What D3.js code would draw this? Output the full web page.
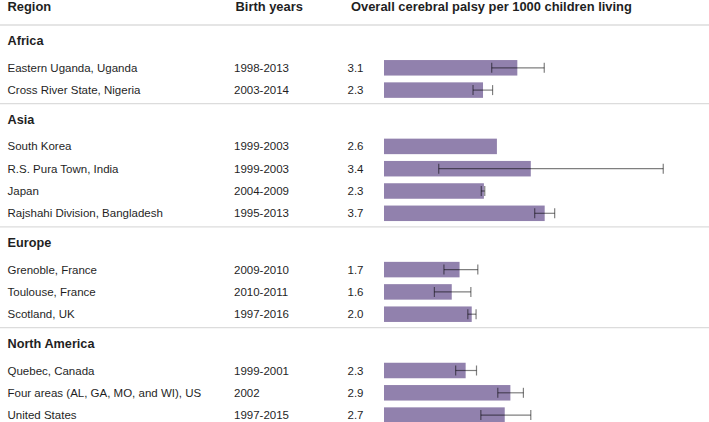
<!DOCTYPE html>
<html>
<head>
<meta charset="utf-8">
<script src="https://cdn.jsdelivr.net/npm/d3@7"></script>
<style>
  html, body { margin: 0; padding: 0; background: #fff; }
  svg { display: block; font-family: "Liberation Sans", Arial, Helvetica, sans-serif; }
</style>
</head>
<body>
<svg id="chart" width="709" height="422"></svg>
<script>
// ---- data ----
const headers = ["Region", "Birth years", "Overall cerebral palsy per 1000 children living"];
const groups = ["Africa", "Asia", "Europe", "North America"];
const rowGroups = ["Africa", "Africa", "Asia", "Asia", "Asia", "Asia", "Europe", "Europe", "Europe", "North America", "North America", "North America"];
const regions = ["Eastern Uganda, Uganda", "Cross River State, Nigeria", "South Korea", "R.S. Pura Town, India", "Japan", "Rajshahi Division, Bangladesh", "Grenoble, France", "Toulouse, France", "Scotland, UK", "Quebec, Canada", "Four areas (AL, GA, MO, and WI), US", "United States"];
const birthYears = ["1998-2013", "2003-2014", "1999-2003", "1999-2003", "2004-2009", "1995-2013", "2009-2010", "2010-2011", "1997-2016", "1999-2001", "2002", "1997-2015"];
const valueLabels = ["3.1", "2.3", "2.6", "3.4", "2.3", "3.7", "1.7", "1.6", "2.0", "2.3", "2.9", "2.7"];
const barValues = [3.07, 2.28, 2.6, 3.38, 2.3, 3.7, 1.74, 1.56, 2.02, 1.88, 2.91, 2.78];
const ciLow  = [2.48, 2.05, null, 1.26, 2.24, 3.47, 1.38, 1.16, 1.93, 1.65, 2.62, 2.23];
const ciHigh = [3.69, 2.50, null, 6.43, 2.32, 3.93, 2.16, 2.00, 2.12, 2.13, 3.21, 3.38];

// ---- layout ----
const svg = d3.select("#chart");
const W = 709;
const textColor = "#1f1f1f";
const barColor = "#9181ad";
const sepColor = "#dcdcdc";

const colRegion = 7.5, colYears = 234, colValue = 347.5, colHeader3 = 351;
const x = d3.scaleLinear().domain([0, 7]).range([384, 688]);

// vertical positions built from the row structure
const headerLineY = 25;
const pitch = 22.3, firstOffset = 22.5, sepOffset = 13.5, labelOffset = 20.3;
const groupLabelY = {}, rowY = [], sepY = [];
let cursor = headerLineY;
groups.forEach((g, gi) => {
  const labelBase = cursor + labelOffset;
  groupLabelY[g] = labelBase;
  let c = labelBase + firstOffset;
  const idx = rowGroups.map((rg, i) => rg === g ? i : -1).filter(i => i >= 0);
  idx.forEach((i, k) => { rowY[i] = c + k * pitch; });
  const last = rowY[idx[idx.length - 1]];
  cursor = last + sepOffset;
  if (gi < groups.length - 1) sepY.push(cursor);
});
const y = d3.scaleOrdinal().domain(regions).range(rowY);
const barH = 15.5;

// header
const hdr = svg.append("g").attr("font-weight", "bold").attr("font-size", 12.9).attr("fill", textColor);
hdr.append("text").attr("x", colRegion).attr("y", 11.3).text(headers[0]);
hdr.append("text").attr("x", colYears + 1.5).attr("y", 11.3).text(headers[1]);
hdr.append("text").attr("x", colHeader3).attr("y", 11.3).text(headers[2]);

// separators
svg.append("g").selectAll("line").data([headerLineY].concat(sepY)).join("line")
  .attr("x1", 0).attr("x2", W).attr("y1", d => d).attr("y2", d => d)
  .attr("stroke", sepColor).attr("stroke-width", 1.3);

// group labels
svg.append("g").selectAll("text").data(groups).join("text")
  .attr("x", colRegion).attr("y", d => groupLabelY[d])
  .attr("font-weight", "bold").attr("font-size", 12.7).attr("fill", textColor)
  .text(d => d);

// row texts
const rows = svg.append("g").attr("font-size", 11.5).attr("fill", textColor);
rows.selectAll("text.region").data(regions).join("text").attr("class", "region")
  .attr("x", colRegion).attr("y", d => y(d)).attr("dy", "0.35em").text(d => d);
rows.selectAll("text.years").data(birthYears).join("text").attr("class", "years")
  .attr("x", colYears).attr("y", (d, i) => rowY[i]).attr("dy", "0.35em").text(d => d);
rows.selectAll("text.val").data(valueLabels).join("text").attr("class", "val")
  .attr("x", colValue).attr("y", (d, i) => rowY[i]).attr("dy", "0.35em").text(d => d);

// bars
svg.append("g").selectAll("rect").data(barValues).join("rect")
  .attr("x", x(0)).attr("y", (d, i) => rowY[i] - barH / 2)
  .attr("width", d => x(d) - x(0)).attr("height", barH)
  .attr("fill", barColor);

// error bars
const ci = regions.map((r, i) => ({ i, lo: ciLow[i], hi: ciHigh[i] })).filter(d => d.lo != null);
const eb = svg.append("g").attr("stroke", "#000").attr("stroke-opacity", 0.5).attr("stroke-width", 1.2);
eb.selectAll("line.h").data(ci).join("line").attr("class", "h")
  .attr("x1", d => x(d.lo)).attr("x2", d => x(d.hi))
  .attr("y1", d => rowY[d.i]).attr("y2", d => rowY[d.i]);
eb.selectAll("line.lo").data(ci).join("line").attr("class", "lo")
  .attr("x1", d => x(d.lo)).attr("x2", d => x(d.lo))
  .attr("y1", d => rowY[d.i] - 5).attr("y2", d => rowY[d.i] + 5);
eb.selectAll("line.hi").data(ci).join("line").attr("class", "hi")
  .attr("x1", d => x(d.hi)).attr("x2", d => x(d.hi))
  .attr("y1", d => rowY[d.i] - 5).attr("y2", d => rowY[d.i] + 5);
</script>
</body>
</html>
